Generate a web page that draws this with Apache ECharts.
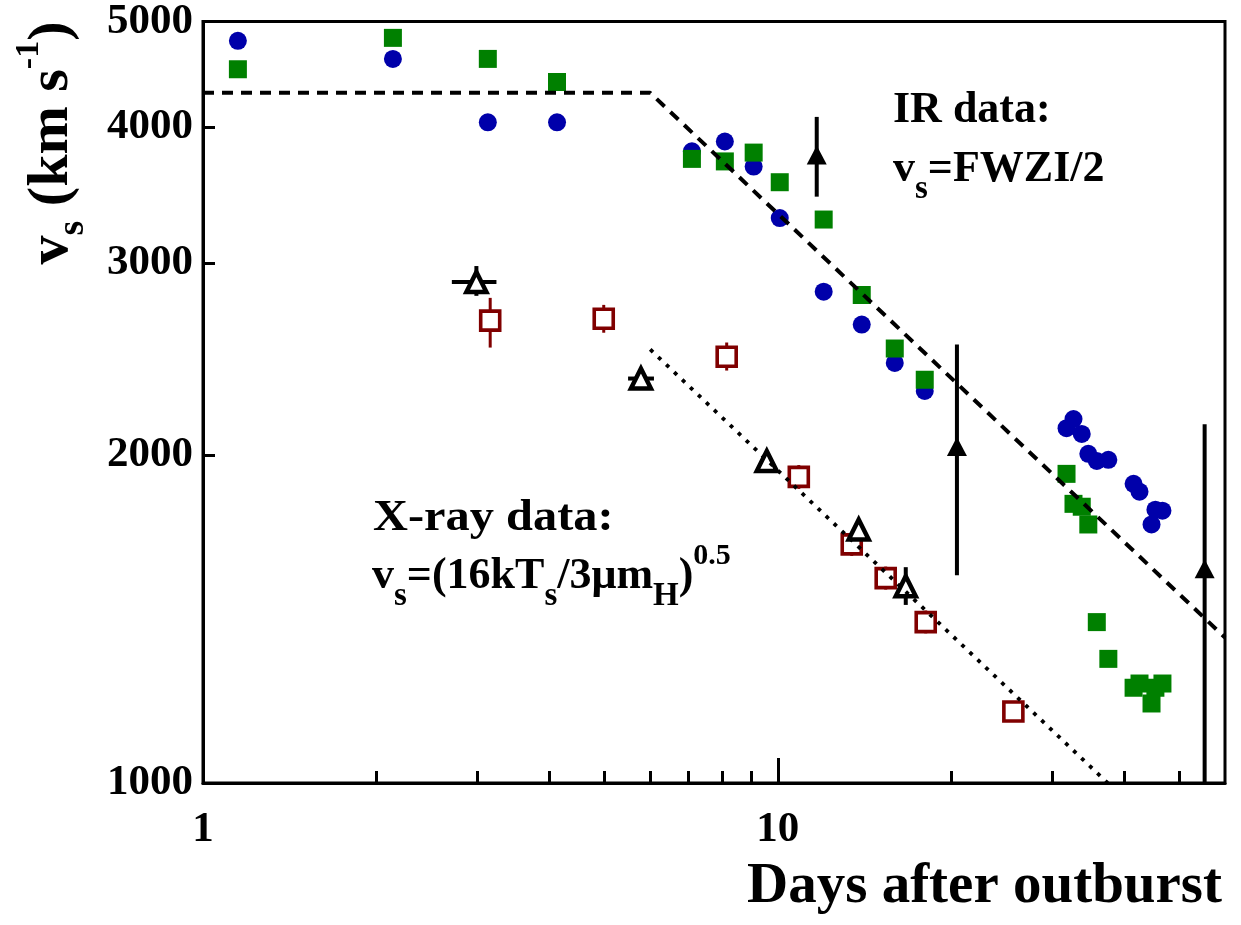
<!DOCTYPE html>
<html>
<head>
<meta charset="utf-8">
<script src="https://cdn.jsdelivr.net/npm/echarts@6/dist/echarts.min.js"></script>
<style>html,body{margin:0;padding:0;background:#fff;}#c{width:1241px;height:925px;}</style>
</head>
<body>
<div id="c"></div>
<script>
// ---------- data (days after outburst, velocities in km/s) ----------
const irDays   = [1.15, 2.14, 3.13, 4.13, 7.09, 8.09, 9.08, 10.08, 12.02, 14.0, 15.98, 18.02,
                  31.8, 32.7, 33.8, 34.7, 35.9, 37.6, 41.6, 42.6, 44.7, 45.4, 46.7];
const irBlueV  = [4800, 4620, 4040, 4040, 3800, 3880, 3680, 3300, 2825, 2635, 2430, 2290,
                  2117, 2158, 2091, 2005, 1975, 1980, 1882, 1851, 1727, 1782, 1778];
const irGreenV = [4520, 4830, 4620, 4400, 3740, 3720, 3790, 3560, 3290, 2805, 2505, 2345,
                  1922, 1804, 1793, 1727, 1405, 1300, 1223, 1234, 1183, 1223, 1234];

const xsqDays = [3.16, 4.98, 8.15, 10.88, 13.45, 15.41, 18.09, 25.7];
const xsqV    = [2657, 2668, 2462, 1910, 1656, 1542, 1405, 1163];
const xsqLo   = [2510, 2590, 2391, 1862, 1616, 1505, 1372, 1140];
const xsqHi   = [2788, 2747, 2537, 1958, 1697, 1580, 1440, 1186];

const xtrDays  = [2.99, 5.78, 9.57, 13.83, 16.7];
const xtrV     = [2883, 2351, 1975, 1709, 1516];
const xtrLo    = [2800, 2351, 1975, 1709, 1457];
const xtrHi    = [2982, 2351, 1975, 1709, 1578];
const xtrDayLo = [2.71, 5.49, 9.57, 13.83, 16.7];
const xtrDayHi = [3.24, 6.09, 9.57, 13.83, 16.7];

const limDays = [11.69, 20.5, 55.3];
const limLo   = [3453, 1551, 1000];
const limHi   = [4087, 2526, 2135];
const limTip  = [3840, 2073, 1601];

const dashDays = [1, 6, 60];
const dashV    = [4300, 4300, 1360];
const dotDays  = [6, 37.5];
const dotV     = [2500, 1000];

const xLabelVals = [1, 10];
const xMinorVals = [2, 3, 4, 5, 6, 7, 8, 9, 20, 30, 40, 50];
const yTickVals  = [1000, 2000, 3000, 4000, 5000];
const xMax = 60, yMin = 1000, yMax = 5000;

// ---------- helpers ----------
const L = Math.log10;
const pts = (xs, ys) => xs.map((x, i) => [L(x), L(ys[i])]);
const FONT = 'Liberation Serif';

const chart = echarts.init(document.getElementById('c'), null, {renderer: 'canvas'});

function errRender(color, width) {
  return function (params, api) {
    const x = api.value(0), y = api.value(1), ylo = api.value(2), yhi = api.value(3), xlo = api.value(4), xhi = api.value(5);
    const ch = [];
    if (yhi > ylo) {
      const a = api.coord([x, ylo]), b = api.coord([x, yhi]);
      ch.push({type: 'line', shape: {x1: a[0], y1: a[1], x2: b[0], y2: b[1]}, style: {stroke: color, lineWidth: width}});
    }
    if (xhi > xlo) {
      const a = api.coord([xlo, y]), b = api.coord([xhi, y]);
      ch.push({type: 'line', shape: {x1: a[0], y1: a[1], x2: b[0], y2: b[1]}, style: {stroke: color, lineWidth: width}});
    }
    return {type: 'group', children: ch};
  };
}

function arrowRender(params, api) {
  const x = api.value(0), lo = api.value(1), hi = api.value(2), tip = api.value(3);
  const a = api.coord([x, lo]), b = api.coord([x, hi]), t = api.coord([x, tip]);
  return {type: 'group', children: [
    {type: 'line', shape: {x1: a[0], y1: a[1], x2: b[0], y2: b[1]}, style: {stroke: '#000', lineWidth: 4}},
    {type: 'polygon', shape: {points: [[t[0], t[1] - 1], [t[0] - 10, t[1] + 18], [t[0] + 10, t[1] + 18]]}, style: {fill: '#000'}}
  ]};
}

const xsqErr = xsqDays.map((d, i) => [L(d), L(xsqV[i]), L(xsqLo[i]), L(xsqHi[i]), L(d), L(d)]);
const xtrErr = xtrDays.map((d, i) => [L(d), L(xtrV[i]), L(xtrLo[i]), L(xtrHi[i]), L(xtrDayLo[i]), L(xtrDayHi[i])]);
const limData = limDays.map((d, i) => [L(d), L(limLo[i]), L(limHi[i]), L(limTip[i])]);

const labelStyle = {fontFamily: FONT, fontWeight: 'bold', fontSize: 43, color: '#000'};

const option = {
  animation: false,
  grid: {left: 203, right: 16, top: 17, bottom: 142, show: true, borderColor: '#000', borderWidth: 3, containLabel: false},
  xAxis: [
    {type: 'value', min: 0, max: L(xMax), position: 'bottom',
     axisLine: {show: true, lineStyle: {color: '#000', width: 3}},
     axisTick: {show: true, inside: true, length: 25, lineStyle: {color: '#000', width: 3}, customValues: xLabelVals.map(L)},
     axisLabel: Object.assign({show: true, margin: 25, customValues: xLabelVals.map(L),
       formatter: v => String(Math.round(Math.pow(10, v)))}, labelStyle),
     splitLine: {show: false}},
    {type: 'value', min: 0, max: L(xMax), position: 'bottom',
     axisLine: {show: false},
     axisTick: {show: true, inside: true, length: 12, lineStyle: {color: '#000', width: 3}, customValues: xMinorVals.map(L)},
     axisLabel: {show: false},
     splitLine: {show: false}}
  ],
  yAxis: [{
    type: 'value', min: L(yMin), max: L(yMax),
    axisLine: {show: true, lineStyle: {color: '#000', width: 3}},
    axisTick: {show: true, inside: true, length: 12, lineStyle: {color: '#000', width: 3}, customValues: yTickVals.map(L)},
    axisLabel: Object.assign({show: true, margin: 10, customValues: yTickVals.map(L),
      formatter: v => String(Math.round(Math.pow(10, v)))}, labelStyle),
    splitLine: {show: false}
  }],
  series: [
    {type: 'scatter', name: 'IR blue', data: pts(irDays, irBlueV), symbol: 'circle', symbolSize: 18,
     itemStyle: {color: '#0000aa', opacity: 1}, z: 2, silent: true},
    {type: 'scatter', name: 'IR green', data: pts(irDays, irGreenV), symbol: 'rect', symbolSize: 18,
     itemStyle: {color: '#008000', opacity: 1}, z: 2, silent: true},
    {type: 'custom', name: 'xsq err', data: xsqErr, renderItem: errRender('#800000', 3), z: 3, silent: true,
     encode: {x: 0, y: 1}},
    {type: 'custom', name: 'xtr err', data: xtrErr, renderItem: errRender('#000', 4), z: 3, silent: true,
     encode: {x: 0, y: 1}},
    {type: 'scatter', name: 'X-ray squares', data: pts(xsqDays, xsqV), symbol: 'rect', symbolSize: 19,
     itemStyle: {color: '#fff', borderColor: '#800000', borderWidth: 3.6, opacity: 1}, z: 4, silent: true},
    {type: 'scatter', name: 'X-ray triangles', data: pts(xtrDays, xtrV), symbol: 'triangle', symbolSize: 20,
     itemStyle: {color: '#fff', borderColor: '#000', borderWidth: 4.5, opacity: 1}, z: 4, silent: true},
    {type: 'custom', name: 'limits', data: limData, renderItem: arrowRender, z: 5, silent: true,
     encode: {x: 0, y: 1}},
    {type: 'line', name: 'dashed', data: pts(dashDays, dashV), symbol: 'none', z: 6, silent: true,
     lineStyle: {color: '#000', width: 4, type: [11, 8]}},
    {type: 'line', name: 'dotted', data: pts(dotDays, dotV), symbol: 'none', z: 6, silent: true,
     lineStyle: {color: '#000', width: 3.8, type: [3.8, 7.2]}}
  ],
  graphic: [
    {type: 'text', x: 893, y: 111, z: 10, silent: true,
     style: {text: 'IR data:', font: 'bold 44px "Liberation Serif"', fill: '#000', verticalAlign: 'middle', align: 'left'}},
    {type: 'text', x: 893, y: 170, z: 10, silent: true,
     style: {text: '{m|v}{s|s}{m|=FWZI/2}', verticalAlign: 'middle', align: 'left',
       rich: {m: {fontFamily: FONT, fontWeight: 'bold', fontSize: 44, lineHeight: 72, verticalAlign: 'middle', fill: '#000'},
              s: {fontFamily: FONT, fontWeight: 'bold', fontSize: 33, lineHeight: 33, verticalAlign: 'bottom', fill: '#000'}}}},
    {type: 'text', x: 373, y: 519, scaleX: 1.1, z: 10, silent: true,
     style: {text: 'X-ray data:', font: 'bold 44px "Liberation Serif"', fill: '#000', verticalAlign: 'middle', align: 'left'}},
    {type: 'text', x: 372, y: 577, z: 10, silent: true,
     style: {text: '{m|v}{s|s}{m|=(16kT}{s|s}{m|/3\u03bcm}{s|H}{m|)}{p|0.5}', verticalAlign: 'middle', align: 'left',
       rich: {m: {fontFamily: FONT, fontWeight: 'bold', fontSize: 44, lineHeight: 72, verticalAlign: 'middle', fill: '#000'},
              s: {fontFamily: FONT, fontWeight: 'bold', fontSize: 33, lineHeight: 33, verticalAlign: 'bottom', fill: '#000'},
              p: {fontFamily: FONT, fontWeight: 'bold', fontSize: 30, lineHeight: 30, verticalAlign: 'top', fill: '#000'}}}},
    {type: 'text', x: 1222, y: 887, z: 10, silent: true,
     style: {text: 'Days after outburst', font: 'bold 57px "Liberation Serif"', fill: '#000', verticalAlign: 'middle', align: 'right'}},
    {type: 'text', x: 52, y: 143, rotation: Math.PI / 2, z: 10, silent: true,
     style: {text: '{m|v}{s|s}{m| (km s}{p|-1}{m|)}', verticalAlign: 'middle', align: 'center',
       rich: {m: {fontFamily: FONT, fontWeight: 'bold', fontSize: 58, lineHeight: 80, verticalAlign: 'middle', fill: '#000'},
              s: {fontFamily: FONT, fontWeight: 'bold', fontSize: 38, lineHeight: 38, verticalAlign: 'bottom', fill: '#000'},
              p: {fontFamily: FONT, fontWeight: 'bold', fontSize: 34, lineHeight: 14, verticalAlign: 'top', fill: '#000'}}}}
  ]
};
chart.setOption(option);
</script>
</body>
</html>
